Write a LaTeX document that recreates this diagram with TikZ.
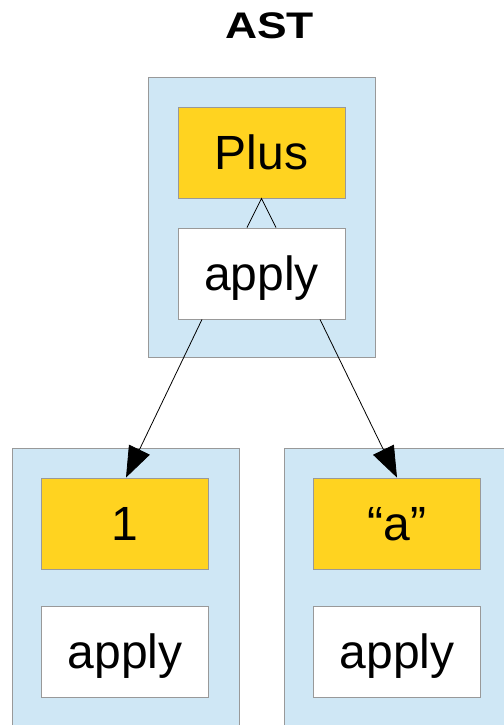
\documentclass[tikz,border=0pt]{standalone}
\usepackage{fontspec}
\setmainfont{Liberation Sans}
\newfontfamily\titlefont[FakeStretch=1.2]{Liberation Sans}
\usetikzlibrary{arrows.meta}
\definecolor{paleblue}{RGB}{207,231,245}
\definecolor{nodeyellow}{RGB}{255,211,32}
\definecolor{edgegray}{RGB}{153,153,153}

\begin{document}
\begin{tikzpicture}[x=1pt,y=-1pt,
    frame/.style={draw=edgegray, fill=paleblue, line width=0.8pt, inner sep=0pt,
        minimum width=227pt, minimum height=280pt},
    value/.style={draw=edgegray, fill=nodeyellow, line width=0.8pt, inner sep=0pt,
        minimum width=167pt, minimum height=91pt, text height=34.4pt, text depth=0pt,
        font=\fontsize{48}{58}\selectfont},
    call/.style={value, fill=white},
    link/.style={-{Triangle[length=31pt,width=23pt]}, line width=0.8pt}]
    \useasboundingbox (0,0) rectangle (503,725);

    % Title
    \node[font=\titlefont\fontsize{37}{44}\selectfont\bfseries, anchor=base] (title) at (269.5,39) {AST};

    % Plus
    \node[frame] (plusframe) at (261.5,217) {};
    \node[value] (plus) at (261.5,152.5) {Plus};
    \node[call] (plusapply) at (261.5,273.5) {apply};
    \draw[line width=0.8pt] ([xshift=-14.5pt]plusapply.north) -- (plus.south) -- ([xshift=14.5pt]plusapply.north);

    % 1
    \node[frame, minimum height=300pt] (oneframe) at (125.5,598) {};
    \node[value] (one) at (125,523.5) {1};
    \node[call] (oneapply) at (125,651.5) {apply};

    % "a"
    \node[frame, minimum height=300pt] (strframe) at (397.5,598) {};
    \node[value] (str) at (397,523.5) {“a”};
    \node[call] (strapply) at (397,651.5) {apply};

    % Arguments
    \draw[link] ([xshift=-59.5pt]plusapply.south) -- ([xshift=1pt]one.north);
    \draw[link] ([xshift=58.5pt]plusapply.south) -- (str.north);
\end{tikzpicture}
\end{document}
